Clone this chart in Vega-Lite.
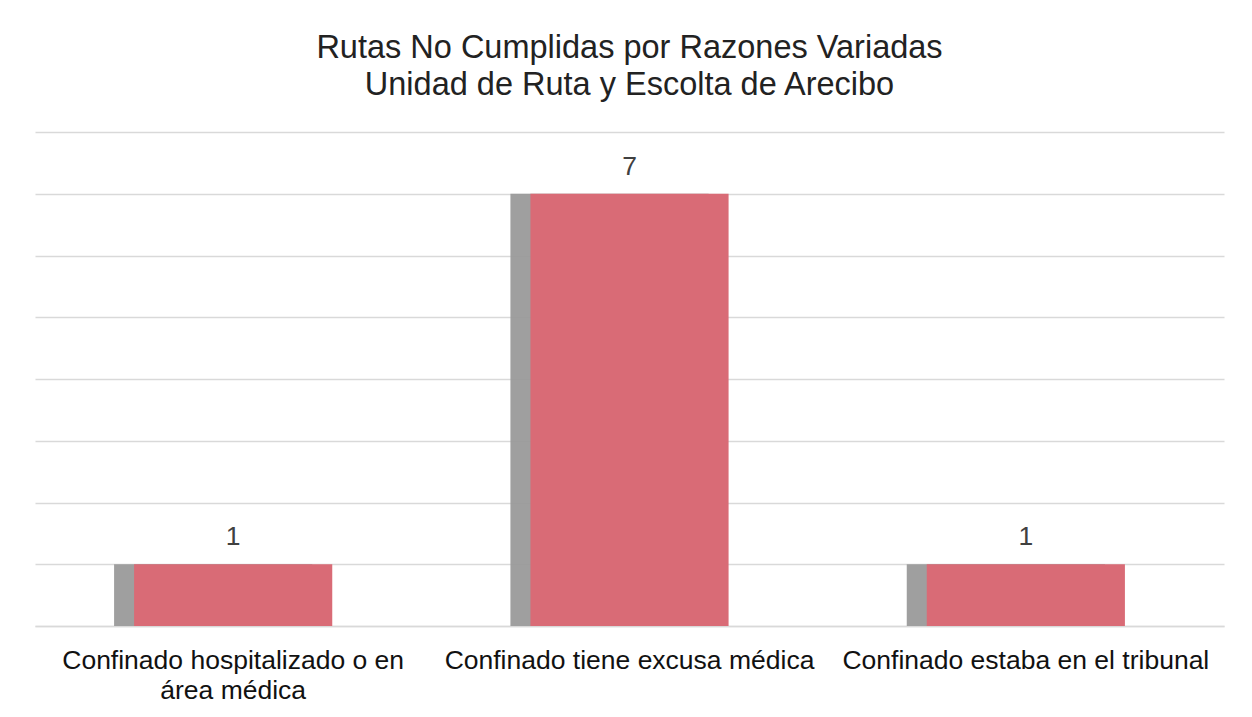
{
  "$schema": "https://vega.github.io/schema/vega-lite/v6.json",
  "autosize": {"type": "none"},
  "width": 1189,
  "height": 494,
  "padding": {"left": 35, "top": 132, "right": 28, "bottom": 91},
  "background": "white",
  "config": {
    "view": {"stroke": null},
    "font": "Arial, 'Liberation Sans', sans-serif"
  },
  "title": {
    "text": ["Rutas No Cumplidas por Razones Variadas", "Unidad de Ruta y Escolta de Arecibo"],
    "fontSize": 32.5,
    "fontWeight": "normal",
    "color": "#222222",
    "lineHeight": 37,
    "offset": 31,
    "anchor": "middle"
  },
  "data": {
    "values": [
      {"razon": "Confinado hospitalizado o en área médica", "rutas": 1},
      {"razon": "Confinado tiene excusa médica", "rutas": 7},
      {"razon": "Confinado estaba en el tribunal", "rutas": 1}
    ]
  },
  "encoding": {
    "x": {
      "field": "razon",
      "type": "nominal",
      "sort": null,
      "scale": {"paddingInner": 0.5, "paddingOuter": 0.25},
      "axis": {
        "title": null,
        "labelAngle": 0,
        "labelFontSize": 26.5,
        "labelColor": "#111111",
        "labelPadding": 21,
        "labelLineHeight": 30,
        "labelLimit": 0,
        "ticks": false,
        "domainColor": "#d9d9d9",
        "domainWidth": 1.5,
        "labelExpr": "datum.label == 'Confinado hospitalizado o en área médica' ? ['Confinado hospitalizado o en', 'área médica'] : datum.label"
      }
    },
    "y": {
      "field": "rutas",
      "type": "quantitative",
      "scale": {"domain": [0, 8]},
      "axis": {
        "title": null,
        "labels": false,
        "ticks": false,
        "domain": false,
        "tickCount": 8,
        "gridColor": "#d9d9d9",
        "gridWidth": 1.5
      }
    }
  },
  "layer": [
    {"mark": {"type": "bar", "color": "#9a9a9a", "xOffset": -20, "opacity": 0.95}},
    {"mark": {"type": "bar", "color": "#d96b76"}},
    {
      "mark": {"type": "text", "dy": -27, "fontSize": 26.5, "color": "#404040"},
      "encoding": {"text": {"field": "rutas", "type": "quantitative"}}
    }
  ]
}
